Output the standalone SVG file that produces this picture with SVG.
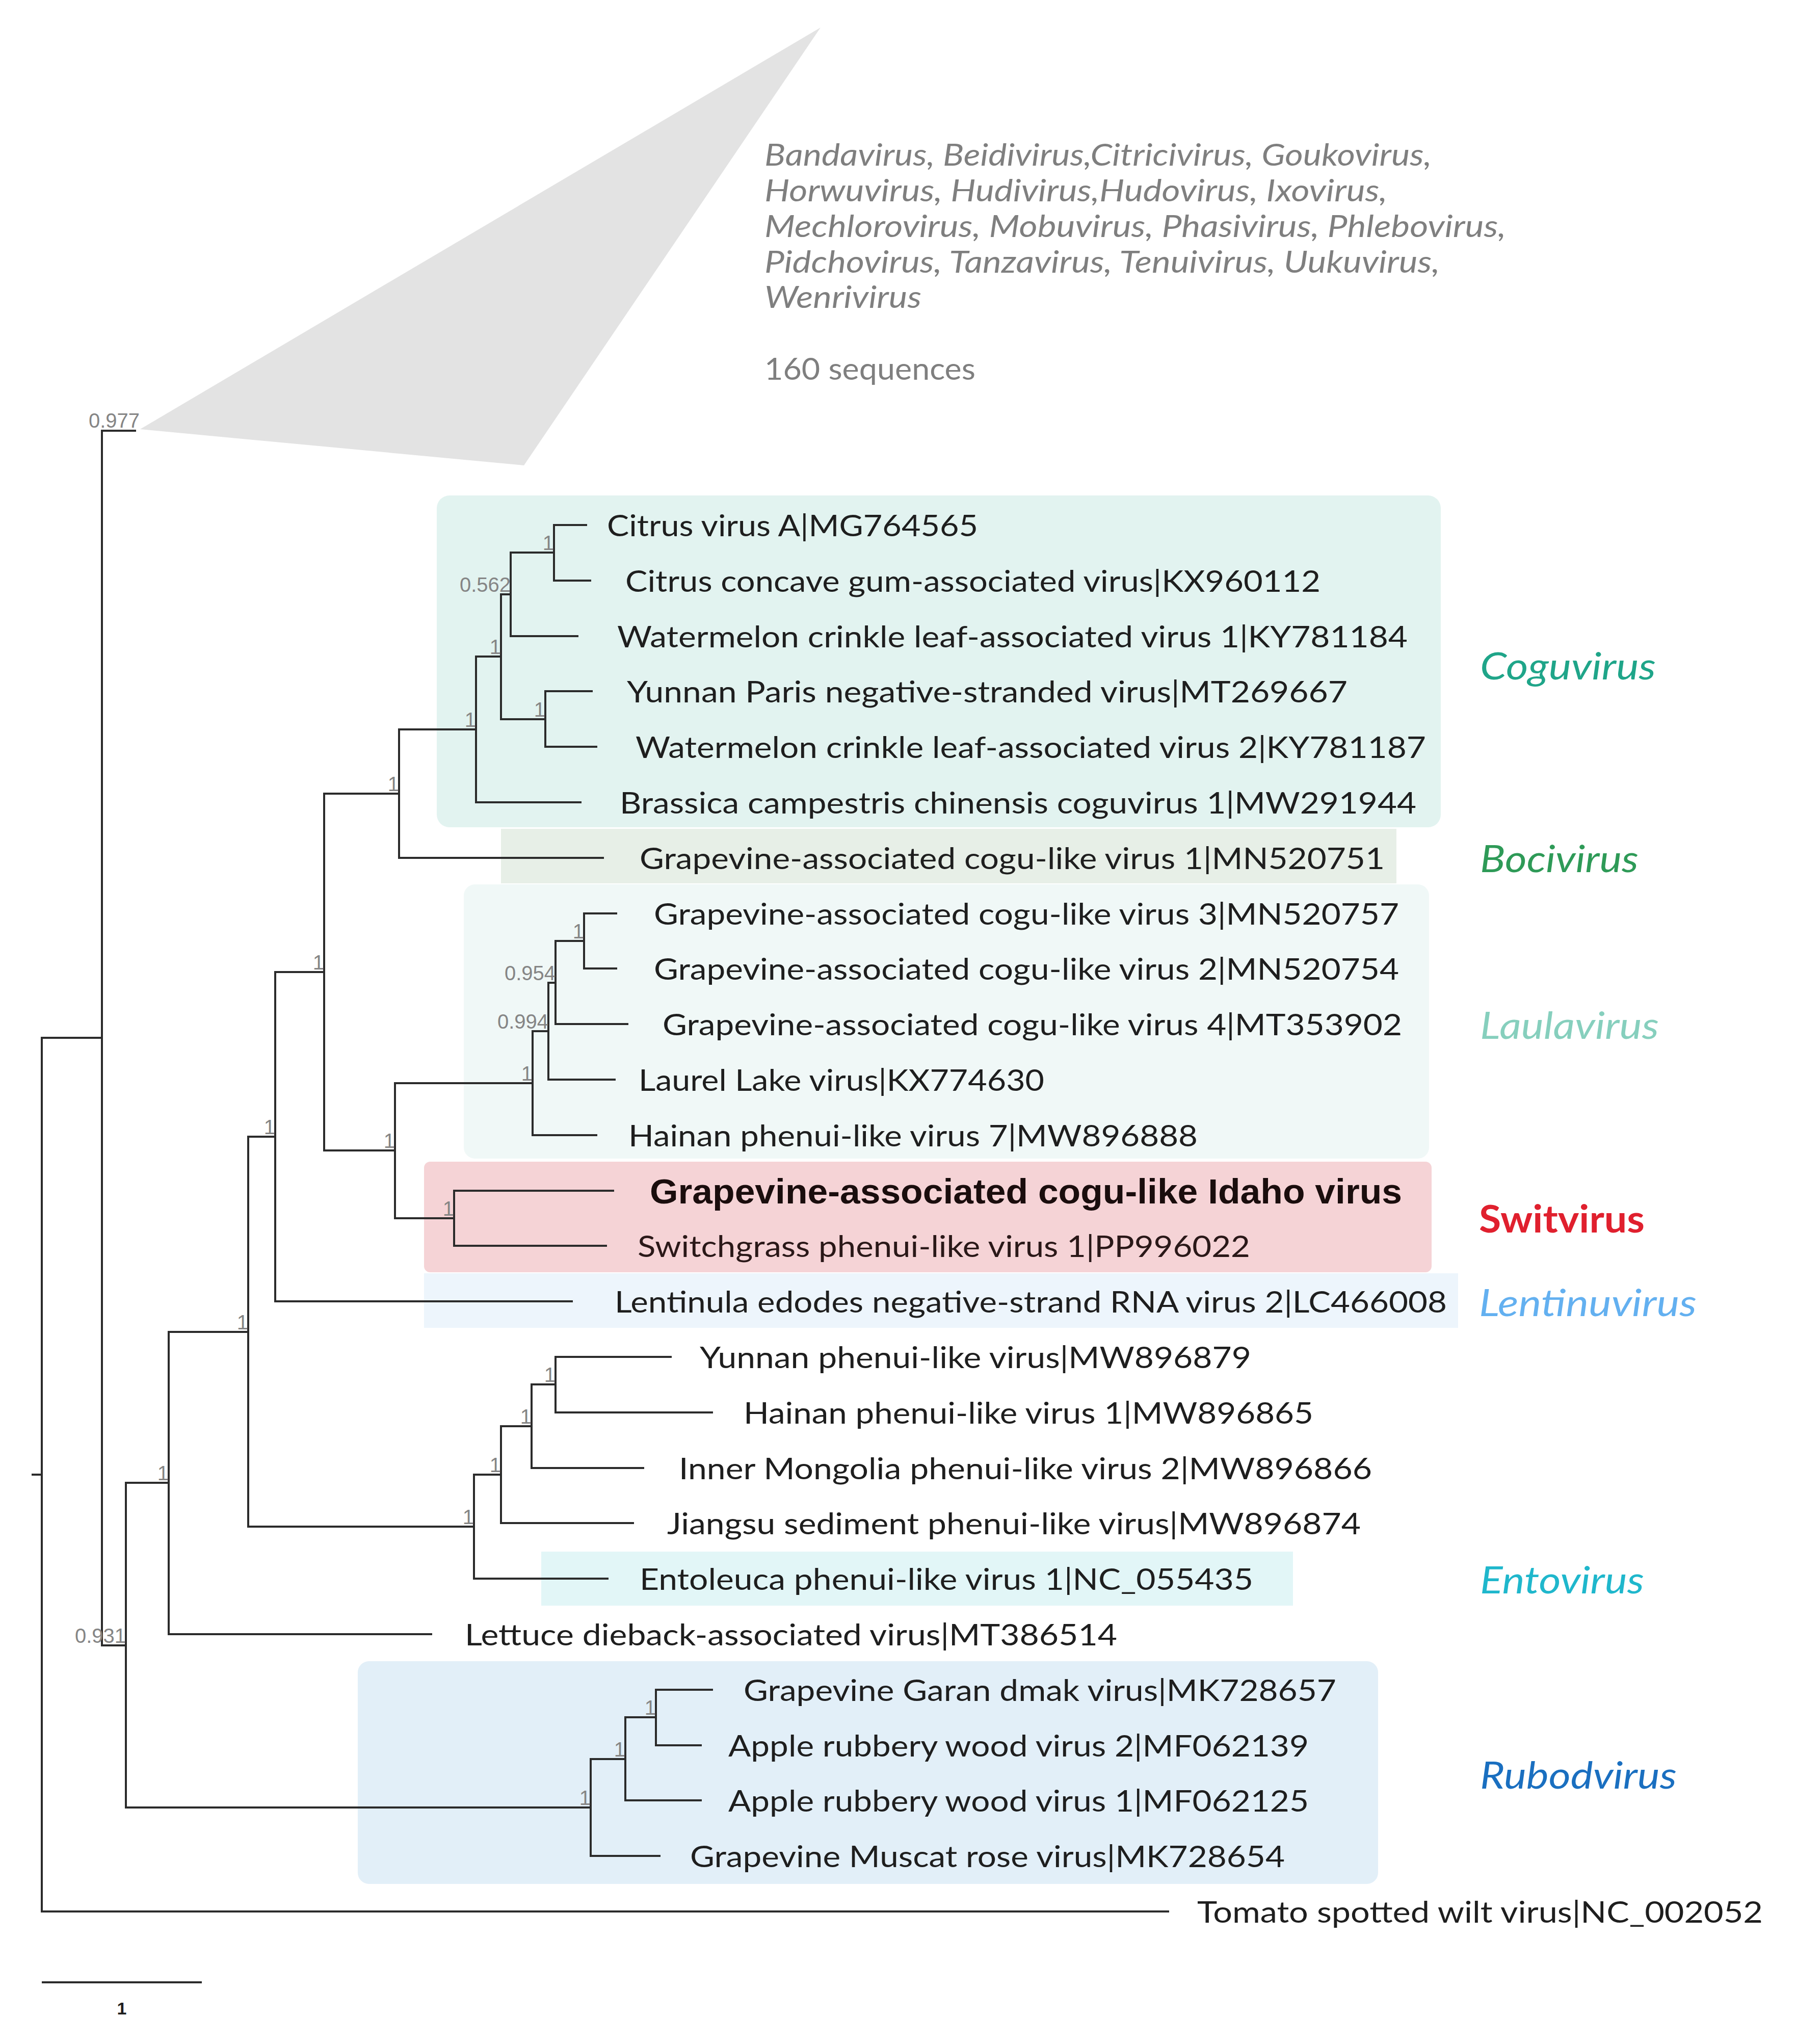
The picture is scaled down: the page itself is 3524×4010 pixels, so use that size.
<svg xmlns="http://www.w3.org/2000/svg" width="3524" height="4010" viewBox="0 0 3524 4010">
<style>
.br{fill:none;stroke:#2b2b2b;stroke-width:4}
.leaf{font-family:Lato,"Open Sans","Liberation Sans",sans-serif;font-size:58px;fill:#1e1e1e}
.bs{font-family:"Liberation Sans",Arial,sans-serif;font-size:40px;fill:#858585;text-anchor:end}
.gen{font-family:Lato,"Open Sans","Liberation Sans",sans-serif;font-size:74px;font-style:italic}
.col{font-family:Lato,"Open Sans","Liberation Sans",sans-serif;font-size:60px;font-style:italic;fill:#7f7f7f}
.up{font-style:normal}
</style>
<rect width="3524" height="4010" fill="#ffffff"/>
<g id="clade-boxes">
<rect id="box-coguvirus" x="857" y="972" width="1970" height="651" rx="25" fill="#e2f3f0"/>
<rect id="box-bocivirus" x="983" y="1626" width="1757" height="107" fill="#e7efe7"/>
<rect id="box-laulavirus" x="910" y="1735" width="1894" height="538" rx="22" fill="#f0f8f7"/>
<rect id="box-switvirus" x="832" y="2279" width="1977" height="217" rx="12" fill="#f5d3d6"/>
<rect id="box-lentinuvirus" x="832" y="2498" width="2029" height="107" fill="#edf5fc"/>
<rect id="box-entovirus" x="1062" y="3044" width="1475" height="106" fill="#e2f6f7"/>
<rect id="box-rubodvirus" x="702" y="3259" width="2002" height="437" rx="22" fill="#e2eff8"/>
</g>
<g id="collapsed-clade">
<polygon points="275,842 1610,54 1028,913" fill="#e3e3e3"/>
<text class="col" x="1500" y="325" textLength="1309" lengthAdjust="spacingAndGlyphs">Bandavirus, Beidivirus,Citricivirus, Goukovirus,</text>
<text class="col" x="1500" y="395" textLength="1222" lengthAdjust="spacingAndGlyphs">Horwuvirus, Hudivirus,Hudovirus,  Ixovirus,</text>
<text class="col" x="1500" y="465" textLength="1455" lengthAdjust="spacingAndGlyphs">Mechlorovirus, Mobuvirus,  Phasivirus,  Phlebovirus,</text>
<text class="col" x="1500" y="535" textLength="1325" lengthAdjust="spacingAndGlyphs">Pidchovirus, Tanzavirus, Tenuivirus, Uukuvirus,</text>
<text class="col" x="1500" y="604" textLength="308" lengthAdjust="spacingAndGlyphs">Wenrivirus</text>
<text class="col up" x="1500" y="745" textLength="414" lengthAdjust="spacingAndGlyphs">160 sequences</text>
</g>
<g id="connectors">
<path class="br" d="M200,2036 H82 V3750 H2294 M62,2893 H82"/>
<path class="br" d="M267,845 H200 V3228 H247"/>
<path class="br" d="M331,2909 H247 V3546 H1159"/>
<path class="br" d="M487,2613 H331 V3206 H848"/>
<path class="br" d="M540,2230 H487 V2995 H930"/>
<path class="br" d="M636,1907 H540 V2553 H1124"/>
<path class="br" d="M783,1557 H636 V2257 H775"/>
<path class="br" d="M934,1431 H783 V1683 H1185"/>
<path class="br" d="M983,1288 H934 V1574 H1141"/>
<path class="br" d="M1002,1166 H983 V1411 H1070"/>
<path class="br" d="M1087,1084 H1002 V1248 H1135"/>
<path class="br" d="M1152,1030 H1087 V1139 H1160"/>
<path class="br" d="M1163,1356 H1070 V1465 H1172"/>
<path class="br" d="M1045,2125 H775 V2390 H891"/>
<path class="br" d="M1076,2023 H1045 V2227 H1172"/>
<path class="br" d="M1090,1928 H1076 V2118 H1208"/>
<path class="br" d="M1146,1846 H1090 V2009 H1233"/>
<path class="br" d="M1211,1792 H1146 V1900 H1211"/>
<path class="br" d="M1205,2336 H891 V2444 H1191"/>
<path class="br" d="M983,2893 H930 V3097 H1194"/>
<path class="br" d="M1043,2798 H983 V2988 H1244"/>
<path class="br" d="M1090,2716 H1043 V2880 H1264"/>
<path class="br" d="M1318,2662 H1090 V2771 H1399"/>
<path class="br" d="M1227,3451 H1159 V3641 H1296"/>
<path class="br" d="M1287,3369 H1227 V3532 H1377"/>
<path class="br" d="M1399,3315 H1287 V3424 H1377"/>
</g>
<g id="support-values">
<text class="bs" x="274" y="839">0.977</text>
<text class="bs" x="1087" y="1079">1</text>
<text class="bs" x="1002" y="1161">0.562</text>
<text class="bs" x="983" y="1283">1</text>
<text class="bs" x="1070" y="1406">1</text>
<text class="bs" x="934" y="1426">1</text>
<text class="bs" x="783" y="1552">1</text>
<text class="bs" x="1146" y="1841">1</text>
<text class="bs" x="1090" y="1923">0.954</text>
<text class="bs" x="1076" y="2018">0.994</text>
<text class="bs" x="1045" y="2120">1</text>
<text class="bs" x="775" y="2252">1</text>
<text class="bs" x="891" y="2385">1</text>
<text class="bs" x="636" y="1902">1</text>
<text class="bs" x="540" y="2225">1</text>
<text class="bs" x="487" y="2608">1</text>
<text class="bs" x="1090" y="2711">1</text>
<text class="bs" x="1043" y="2793">1</text>
<text class="bs" x="983" y="2888">1</text>
<text class="bs" x="930" y="2990">1</text>
<text class="bs" x="331" y="2904">1</text>
<text class="bs" x="1287" y="3364">1</text>
<text class="bs" x="1227" y="3446">1</text>
<text class="bs" x="1159" y="3541">1</text>
<text class="bs" x="247" y="3223">0.931</text>
</g>
<g id="leaf-1"><text class="leaf" x="1191" y="1052" textLength="728" lengthAdjust="spacingAndGlyphs">Citrus virus A|MG764565</text></g>
<g id="leaf-2"><text class="leaf" x="1227" y="1161" textLength="1364" lengthAdjust="spacingAndGlyphs">Citrus concave gum-associated virus|KX960112</text></g>
<g id="leaf-3"><text class="leaf" x="1211" y="1270" textLength="1551" lengthAdjust="spacingAndGlyphs">Watermelon crinkle leaf-associated virus 1|KY781184</text></g>
<g id="leaf-4"><text class="leaf" x="1230" y="1378" textLength="1414" lengthAdjust="spacingAndGlyphs">Yunnan Paris negative-stranded virus|MT269667</text></g>
<g id="leaf-5"><text class="leaf" x="1247" y="1487" textLength="1551" lengthAdjust="spacingAndGlyphs">Watermelon crinkle leaf-associated virus 2|KY781187</text></g>
<g id="leaf-6"><text class="leaf" x="1216" y="1596" textLength="1563" lengthAdjust="spacingAndGlyphs">Brassica campestris chinensis coguvirus 1|MW291944</text></g>
<g id="leaf-7"><text class="leaf" x="1255" y="1705" textLength="1462" lengthAdjust="spacingAndGlyphs">Grapevine-associated cogu-like virus 1|MN520751</text></g>
<g id="leaf-8"><text class="leaf" x="1283" y="1814" textLength="1462" lengthAdjust="spacingAndGlyphs">Grapevine-associated cogu-like virus 3|MN520757</text></g>
<g id="leaf-9"><text class="leaf" x="1283" y="1922" textLength="1462" lengthAdjust="spacingAndGlyphs">Grapevine-associated cogu-like virus 2|MN520754</text></g>
<g id="leaf-10"><text class="leaf" x="1300" y="2031" textLength="1451" lengthAdjust="spacingAndGlyphs">Grapevine-associated cogu-like virus 4|MT353902</text></g>
<g id="leaf-11"><text class="leaf" x="1253" y="2140" textLength="796" lengthAdjust="spacingAndGlyphs">Laurel Lake virus|KX774630</text></g>
<g id="leaf-12"><text class="leaf" x="1233" y="2249" textLength="1117" lengthAdjust="spacingAndGlyphs">Hainan phenui-like virus 7|MW896888</text></g>
<g id="leaf-13"><text x="1275" y="2361" textLength="1476" lengthAdjust="spacingAndGlyphs" font-family="'Liberation Sans',Arial,sans-serif" font-size="68" font-weight="bold" fill="#1a0d0d">Grapevine-associated cogu-like Idaho virus</text></g>
<g id="leaf-14"><text class="leaf" x="1251" y="2466" textLength="1202" lengthAdjust="spacingAndGlyphs" style="fill:#2a1818">Switchgrass phenui-like virus 1|PP996022</text></g>
<g id="leaf-15"><text class="leaf" x="1206" y="2575" textLength="1633" lengthAdjust="spacingAndGlyphs">Lentinula edodes negative-strand RNA virus 2|LC466008</text></g>
<g id="leaf-16"><text class="leaf" x="1373" y="2684" textLength="1082" lengthAdjust="spacingAndGlyphs">Yunnan phenui-like virus|MW896879</text></g>
<g id="leaf-17"><text class="leaf" x="1459" y="2793" textLength="1118" lengthAdjust="spacingAndGlyphs">Hainan phenui-like virus 1|MW896865</text></g>
<g id="leaf-18"><text class="leaf" x="1332" y="2902" textLength="1360" lengthAdjust="spacingAndGlyphs">Inner Mongolia phenui-like virus 2|MW896866</text></g>
<g id="leaf-19"><text class="leaf" x="1309" y="3010" textLength="1361" lengthAdjust="spacingAndGlyphs">Jiangsu sediment phenui-like virus|MW896874</text></g>
<g id="leaf-20"><text class="leaf" x="1255" y="3119" textLength="1204" lengthAdjust="spacingAndGlyphs">Entoleuca phenui-like virus 1|NC_055435</text></g>
<g id="leaf-21"><text class="leaf" x="912" y="3228" textLength="1280" lengthAdjust="spacingAndGlyphs">Lettuce dieback-associated virus|MT386514</text></g>
<g id="leaf-22"><text class="leaf" x="1459" y="3337" textLength="1163" lengthAdjust="spacingAndGlyphs">Grapevine Garan dmak virus|MK728657</text></g>
<g id="leaf-23"><text class="leaf" x="1429" y="3446" textLength="1139" lengthAdjust="spacingAndGlyphs">Apple rubbery wood virus 2|MF062139</text></g>
<g id="leaf-24"><text class="leaf" x="1429" y="3554" textLength="1139" lengthAdjust="spacingAndGlyphs">Apple rubbery wood virus 1|MF062125</text></g>
<g id="leaf-25"><text class="leaf" x="1354" y="3663" textLength="1167" lengthAdjust="spacingAndGlyphs">Grapevine Muscat rose virus|MK728654</text></g>
<g id="leaf-26"><text class="leaf" x="2349" y="3772" textLength="1110" lengthAdjust="spacingAndGlyphs">Tomato spotted wilt virus|NC_002052</text></g>
<g id="genus-labels">
<text class="gen" x="2904" y="1333" textLength="345" lengthAdjust="spacingAndGlyphs" fill="#1fa589">Coguvirus</text>
<text class="gen" x="2904" y="1711" textLength="311" lengthAdjust="spacingAndGlyphs" fill="#2e9a57">Bocivirus</text>
<text class="gen" x="2904" y="2038" textLength="351" lengthAdjust="spacingAndGlyphs" fill="#86cfbd">Laulavirus</text>
<text class="gen up" x="2902" y="2418" textLength="325" lengthAdjust="spacingAndGlyphs" fill="#e0202e" font-weight="bold">Switvirus</text>
<text class="gen" x="2902" y="2582" textLength="427" lengthAdjust="spacingAndGlyphs" fill="#63b0f0">Lentinuvirus</text>
<text class="gen" x="2904" y="3126" textLength="322" lengthAdjust="spacingAndGlyphs" fill="#1fb7cc">Entovirus</text>
<text class="gen" x="2904" y="3509" textLength="386" lengthAdjust="spacingAndGlyphs" fill="#1a6fc0">Rubodvirus</text>
</g>
<g id="scale-bar">
<path class="br" d="M82,3889 H396"/>
<text x="239" y="3952" text-anchor="middle" font-family="'Liberation Sans',Arial,sans-serif" font-size="34" font-weight="bold" fill="#1e1e1e">1</text>
</g>
</svg>
